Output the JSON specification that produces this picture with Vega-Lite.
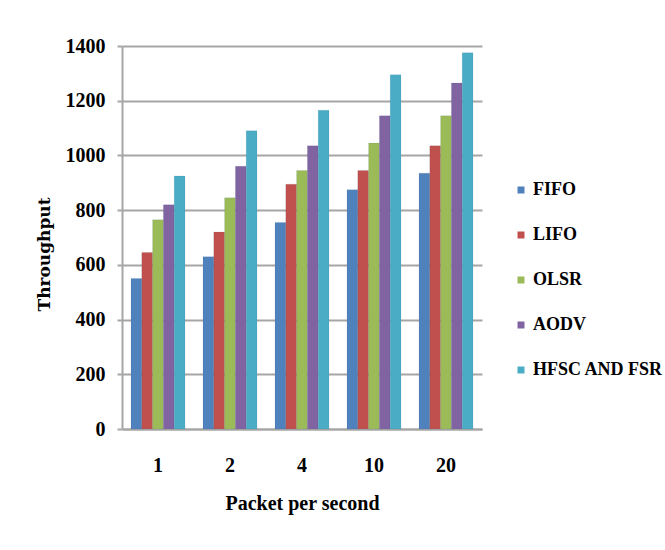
{
  "$schema": "https://vega.github.io/schema/vega-lite/v6.json",
  "autosize": "none",
  "width": 360,
  "height": 383,
  "padding": {"left": 122, "top": 46, "right": 183, "bottom": 121},
  "background": "white",
  "data": {
    "values": [
      {"pps": "1", "series": "FIFO", "throughput": 550},
      {"pps": "1", "series": "LIFO", "throughput": 645},
      {"pps": "1", "series": "OLSR", "throughput": 765},
      {"pps": "1", "series": "AODV", "throughput": 820},
      {"pps": "1", "series": "HFSC AND FSR", "throughput": 925},
      {"pps": "2", "series": "FIFO", "throughput": 630},
      {"pps": "2", "series": "LIFO", "throughput": 720},
      {"pps": "2", "series": "OLSR", "throughput": 845},
      {"pps": "2", "series": "AODV", "throughput": 960},
      {"pps": "2", "series": "HFSC AND FSR", "throughput": 1090},
      {"pps": "4", "series": "FIFO", "throughput": 755},
      {"pps": "4", "series": "LIFO", "throughput": 895},
      {"pps": "4", "series": "OLSR", "throughput": 945},
      {"pps": "4", "series": "AODV", "throughput": 1035},
      {"pps": "4", "series": "HFSC AND FSR", "throughput": 1165},
      {"pps": "10", "series": "FIFO", "throughput": 875},
      {"pps": "10", "series": "LIFO", "throughput": 945},
      {"pps": "10", "series": "OLSR", "throughput": 1045},
      {"pps": "10", "series": "AODV", "throughput": 1145},
      {"pps": "10", "series": "HFSC AND FSR", "throughput": 1295},
      {"pps": "20", "series": "FIFO", "throughput": 935},
      {"pps": "20", "series": "LIFO", "throughput": 1035},
      {"pps": "20", "series": "OLSR", "throughput": 1145},
      {"pps": "20", "series": "AODV", "throughput": 1265},
      {"pps": "20", "series": "HFSC AND FSR", "throughput": 1375}
    ]
  },
  "mark": {"type": "bar", "stroke": "#2f4f6f", "strokeOpacity": 0.2, "strokeWidth": 0.5},
  "encoding": {
    "x": {
      "field": "pps",
      "type": "ordinal",
      "sort": ["1", "2", "4", "10", "20"],
      "scale": {"paddingInner": 0.25, "paddingOuter": 0.125},
      "axis": {
        "title": "Packet per second",
        "titleFont": "Liberation Serif",
        "titleFontSize": 20,
        "titleFontWeight": "bold",
        "titleColor": "#000",
        "titlePadding": 18,
        "labelFont": "Liberation Serif",
        "labelFontSize": 20,
        "labelFontWeight": "bold",
        "labelColor": "#000",
        "labelAngle": 0,
        "labelPadding": 26,
        "ticks": false,
        "domainColor": "#A6A6A6",
        "domainWidth": 2
      }
    },
    "xOffset": {
      "field": "series",
      "type": "nominal",
      "sort": ["FIFO", "LIFO", "OLSR", "AODV", "HFSC AND FSR"],
      "scale": {"paddingInner": 0, "paddingOuter": 0}
    },
    "y": {
      "field": "throughput",
      "type": "quantitative",
      "scale": {"domain": [0, 1400], "nice": false},
      "axis": {
        "title": "Throughput",
        "titleFont": "DejaVu Serif",
        "titleFontSize": 17,
        "titleFontWeight": "bold",
        "titleColor": "#000",
        "titlePadding": 12,
        "titleY": 208,
        "values": [0, 200, 400, 600, 800, 1000, 1200, 1400],
        "format": "d",
        "labelFont": "Liberation Serif",
        "labelFontSize": 20,
        "labelFontWeight": "bold",
        "labelColor": "#000",
        "labelPadding": 12,
        "tickColor": "#A6A6A6",
        "tickSize": 5,
        "tickWidth": 2,
        "domainColor": "#A6A6A6",
        "domainWidth": 2,
        "grid": true,
        "gridColor": "#A6A6A6",
        "gridWidth": 2
      }
    },
    "color": {
      "field": "series",
      "type": "nominal",
      "sort": ["FIFO", "LIFO", "OLSR", "AODV", "HFSC AND FSR"],
      "scale": {
        "domain": ["FIFO", "LIFO", "OLSR", "AODV", "HFSC AND FSR"],
        "range": ["#4F81BD", "#C0504D", "#9BBB59", "#8064A2", "#4BACC6"]
      },
      "legend": {
        "title": null,
        "orient": "none",
        "legendX": 390,
        "legendY": 135,
        "symbolType": "square",
        "symbolSize": 49,
        "symbolStrokeWidth": 0,
        "labelFont": "Liberation Serif",
        "labelFontSize": 18,
        "labelFontWeight": "bold",
        "labelColor": "#000",
        "labelOffset": 3,
        "labelLimit": 200,
        "rowPadding": 27
      }
    }
  },
  "config": {"view": {"stroke": null}}
}
